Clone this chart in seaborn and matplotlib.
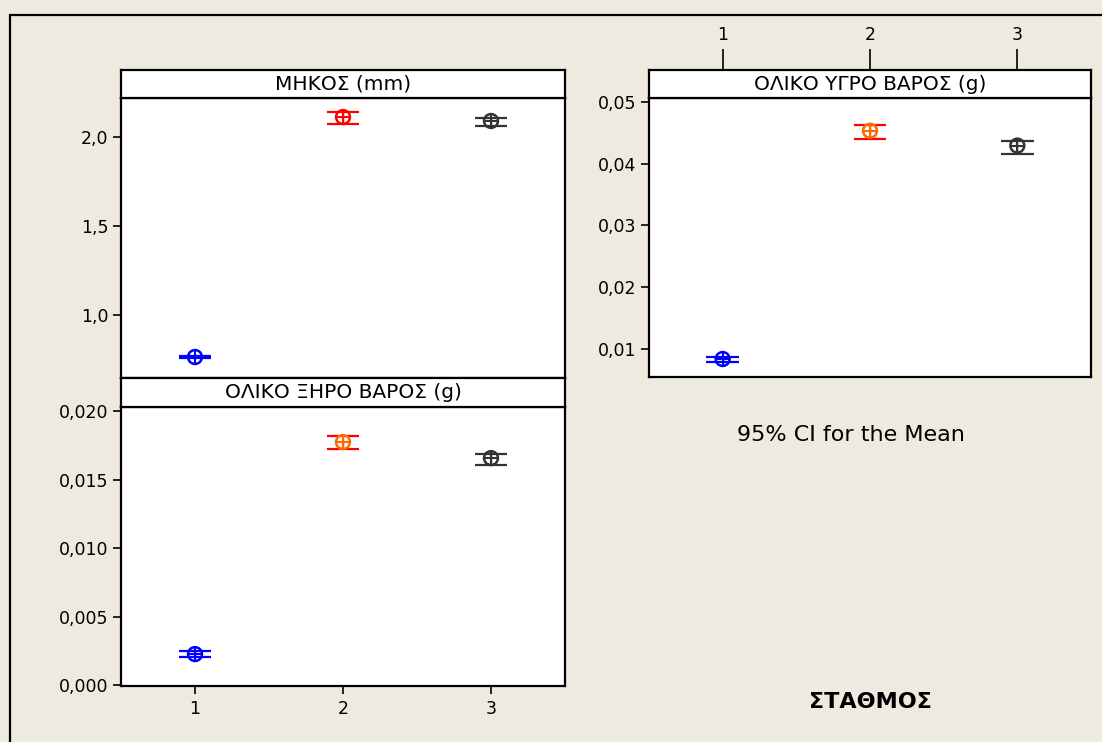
import matplotlib
matplotlib.use("Agg")
import matplotlib.pyplot as plt
import seaborn as sns
import pandas as pd
from matplotlib.lines import Line2D

sns.set_theme(style="white")
plt.rcParams['font.family'] = ['DejaVu Sans']
plt.rcParams['text.color'] = 'black'
plt.rcParams['xtick.color'] = 'black'
plt.rcParams['ytick.color'] = 'black'

groups = [1, 2, 3]

# ΜΗΚΟΣ (mm)
len_mean = [0.764, 2.112, 2.090]
len_lo = [0.756, 2.073, 2.062]
len_hi = [0.771, 2.140, 2.107]

# ΟΛΙΚΟ ΞΗΡΟ ΒΑΡΟΣ (g)
dry_mean = [0.00226, 0.01774, 0.01657]
dry_lo = [0.00204, 0.01723, 0.01606]
dry_hi = [0.00248, 0.01818, 0.01686]

# ΟΛΙΚΟ ΥΓΡΟ ΒΑΡΟΣ (g)
wet_mean = [0.00838, 0.04530, 0.04290]
wet_lo = [0.00790, 0.04390, 0.04160]
wet_hi = [0.00870, 0.04630, 0.04370]

titles = ["ΜΗΚΟΣ (mm)", "ΟΛΙΚΟ ΞΗΡΟ ΒΑΡΟΣ (g)", "ΟΛΙΚΟ ΥΓΡΟ ΒΑΡΟΣ (g)"]

cap_colors = ["#0000FF", "#FF0000", "#333333"]
marker_colors_len = ["#0000FF", "#FF0000", "#333333"]
marker_colors_other = ["#0000FF", "#FF6A00", "#333333"]

BG = "#EEEAE0"
W, H = 1102, 742
fig = plt.figure(figsize=(W / 100, H / 100), dpi=100, facecolor=BG)

TICK_FS = 12.5
TITLE_FS = 14.5

def fx(px):
    return px / W

def fy(py):
    return 1 - py / H

def add_axes(x0, x1, y0, y1):
    return fig.add_axes([fx(x0), fy(y1), fx(x1) - fx(x0), fy(y0) - fy(y1)])

def strip(x0, x1, y0, y1, text):
    s = add_axes(x0, x1, y0, y1)
    s.set_facecolor("white")
    s.set_xticks([]); s.set_yticks([])
    for sp in s.spines.values():
        sp.set_linewidth(1.6); sp.set_color("black")
    s.text(0.5, 0.5, text, ha="center", va="center", fontsize=TITLE_FS, transform=s.transAxes)
    return s

def panel(ax, means, lo, hi, mcolors, ylim, yticks, ylabels):
    df = pd.DataFrame({"x": groups, "y": means, "g": [str(g) for g in groups]})
    ax.set_facecolor("white")
    for i in range(3):
        ax.hlines([lo[i], hi[i]], groups[i] - 0.11, groups[i] + 0.11,
                  color=cap_colors[i], lw=1.6, zorder=2)
        ax.vlines(groups[i], lo[i], hi[i], color=cap_colors[i], lw=1.0, zorder=2)
    sns.scatterplot(data=df, x="x", y="y", hue="g",
                    palette=dict(zip(df["g"], mcolors)), marker="o", s=100,
                    linewidth=1.8, legend=False, ax=ax, zorder=3)
    coll = ax.collections[-1]
    coll.set_edgecolors(mcolors)
    coll.set_facecolors("none")
    for i in range(3):
        ax.plot(groups[i], means[i], marker="+", ms=10, mew=1.5,
                color=mcolors[i], zorder=4)
    ax.set_xlim(0.5, 3.5)
    ax.set_ylim(*ylim)
    ax.set_yticks(yticks)
    ax.set_yticklabels(ylabels, fontsize=TICK_FS)
    ax.set_xlabel(""); ax.set_ylabel("")
    for sp in ax.spines.values():
        sp.set_linewidth(1.6); sp.set_color("black")
    ax.tick_params(axis="y", left=True, length=6, width=1.2, color="black", pad=3)

# Panel 1: length
ax1 = add_axes(121, 565, 98, 378)
panel(ax1, len_mean, len_lo, len_hi, marker_colors_len, (0.646, 2.219),
      [1.0, 1.5, 2.0], ["1,0", "1,5", "2,0"])
ax1.set_xticks([])
strip(121, 565, 70, 98, titles[0])

# Panel 2: dry weight
ax2 = add_axes(121, 565, 407, 686)
panel(ax2, dry_mean, dry_lo, dry_hi, marker_colors_other, (-0.00007, 0.0203),
      [0.0, 0.005, 0.010, 0.015, 0.020], ["0,000", "0,005", "0,010", "0,015", "0,020"])
ax2.set_xticks(groups)
ax2.set_xticklabels([str(g) for g in groups], fontsize=TICK_FS)
ax2.tick_params(axis="x", bottom=True, length=6, width=1.2, color="black", pad=4)
strip(121, 565, 378, 407, titles[1])

# Panel 3: wet weight
ax3 = add_axes(649, 1091, 98, 377)
panel(ax3, wet_mean, wet_lo, wet_hi, marker_colors_other, (0.00547, 0.0506),
      [0.01, 0.02, 0.03, 0.04, 0.05], ["0,01", "0,02", "0,03", "0,04", "0,05"])
ax3.set_xticks(groups)
ax3.set_xticklabels([str(g) for g in groups], fontsize=TICK_FS)
ax3.tick_params(axis="x", top=True, labeltop=True, bottom=False, labelbottom=False,
                length=35, width=1.2, color="black", pad=4)
strip(649, 1091, 70, 98, titles[2])

fig.text(fx(851), fy(435), "95% CI for the Mean", ha="center", va="center", fontsize=16)
fig.text(fx(870), fy(702), "ΣΤΑΘΜΟΣ", ha="center", va="center", fontsize=16, fontweight="bold")

# frame lines (left and top)
fig.add_artist(Line2D([fx(10), fx(10)], [fy(15), 0], color="black", lw=1.6))
fig.add_artist(Line2D([fx(10), 1], [fy(15), fy(15)], color="black", lw=1.6))

fig.savefig("out.png", dpi=100, facecolor=BG)
